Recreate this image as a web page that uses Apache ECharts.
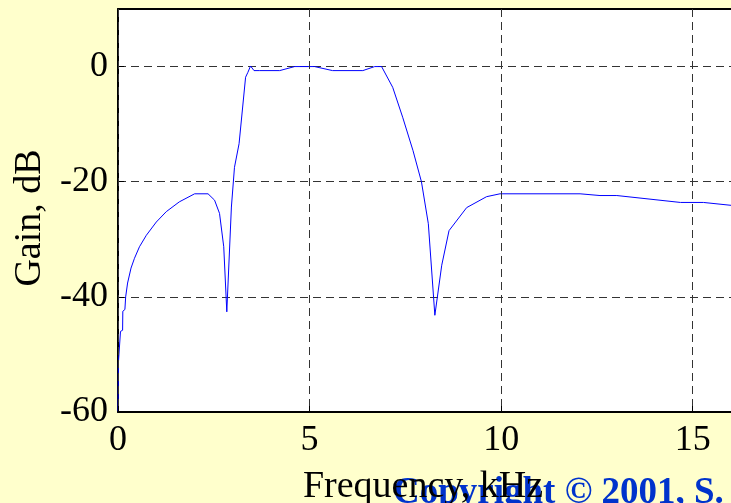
<!DOCTYPE html>
<html>
<head>
<meta charset="utf-8">
<script src="https://cdn.jsdelivr.net/npm/echarts@6/dist/echarts.min.js"></script>
<style>
html,body{margin:0;padding:0;background:#ffffcc;}
#c{width:731px;height:503px;}
</style>
</head>
<body>
<div id="c"></div>
<script>
const freqKHz = [0, 0.01, 0.06, 0.065, 0.12, 0.126, 0.18, 0.2, 0.25, 0.34, 0.43, 0.56, 0.74, 1.0, 1.26, 1.6, 2.0, 2.35, 2.52, 2.65, 2.76, 2.84, 2.96, 3.04, 3.16, 3.33, 3.39, 3.46, 3.55, 3.70, 4.22, 4.61, 5.13, 5.6, 6.39, 6.7, 6.88, 7.17, 7.43, 7.70, 7.92, 8.10, 8.27, 8.45, 8.64, 9.1, 9.62, 9.97, 12.06, 12.58, 13.02, 14.68, 15.28, 16.0];
const gainDB  = [-60, -51.5, -51.3, -46, -45.8, -42.5, -42.2, -40, -37.6, -35, -33.3, -31.3, -29.3, -27, -25.2, -23.5, -22.1, -22.1, -23.2, -25.5, -31.3, -42.6, -24.4, -17.5, -13.4, -1.85, -1, 0.1, -0.7, -0.7, -0.7, 0, 0, -0.7, -0.7, 0, 0, -3.6, -8.8, -14.6, -20, -27.3, -43.2, -34.5, -28.5, -24.5, -22.6, -22.1, -22.1, -22.4, -22.4, -23.6, -23.6, -24.1];
const xTickStep = 5;
const yTickStep = 20;
const xLabel = 'Frequency, kHz';
const yLabel = 'Gain, dB';
const copyrightText = 'Copyright © 2001, S.';

const serif = "'Liberation Serif', 'Times New Roman', serif";
const chart = echarts.init(document.getElementById('c'));
const gridLine = {show: true, lineStyle: {color: '#333', type: [8, 5], width: 1}};
chart.setOption({
  backgroundColor: '#ffffcc',
  animation: false,
  grid: {left: 118, top: 9, right: 0, bottom: 91, show: true, backgroundColor: '#fff', borderWidth: 0},
  xAxis: [{
    type: 'value', min: 0, max: 16, interval: xTickStep, position: 'bottom',
    axisLine: {show: true, onZero: false, lineStyle: {color: '#000', width: 2}},
    axisTick: {show: true, inside: true, length: 6, lineStyle: {color: '#000'}},
    axisLabel: {show: true, margin: 11, showMaxLabel: false, color: '#000', fontFamily: serif, fontSize: 36},
    splitLine: gridLine, z: 5
  }, {
    type: 'value', min: 0, max: 16, interval: xTickStep, position: 'top',
    axisLine: {show: true, onZero: false, lineStyle: {color: '#000', width: 2}},
    axisTick: {show: true, inside: true, length: 6, lineStyle: {color: '#000'}},
    axisLabel: {show: false}, splitLine: {show: false}
  }],
  yAxis: [{
    type: 'value', min: -60, max: 10, interval: yTickStep,
    axisLine: {show: true, onZero: false, lineStyle: {color: '#000', width: 2}},
    axisTick: {show: true, inside: true, length: 6, lineStyle: {color: '#000'}},
    axisLabel: {show: true, margin: 10, showMaxLabel: false, color: '#000', fontFamily: serif, fontSize: 36},
    splitLine: gridLine
  }],
  graphic: [
    {type: 'text', x: 393, y: 475, z: 1, style: {text: copyrightText, fill: '#0033cc', font: "bold 37px 'Liberation Serif', 'Times New Roman', serif", align: 'left', verticalAlign: 'top'}},
    {type: 'text', x: 423, y: 487, z: 10, style: {text: xLabel, fill: '#000', font: "38px 'Liberation Serif', 'Times New Roman', serif", align: 'center', verticalAlign: 'middle'}},
    {type: 'text', x: 30, y: 218, rotation: Math.PI / 2, z: 10, style: {text: yLabel, fill: '#000', font: "38px 'Liberation Serif', 'Times New Roman', serif", align: 'center', verticalAlign: 'middle'}}
  ],
  series: [{
    type: 'line', xAxisIndex: 0, yAxisIndex: 0,
    data: freqKHz.map((f, i) => [f, gainDB[i]]),
    showSymbol: false, symbol: 'none',
    lineStyle: {color: '#0000ff', width: 1},
    clip: true, z: 3
  }]
});
</script>
</body>
</html>
